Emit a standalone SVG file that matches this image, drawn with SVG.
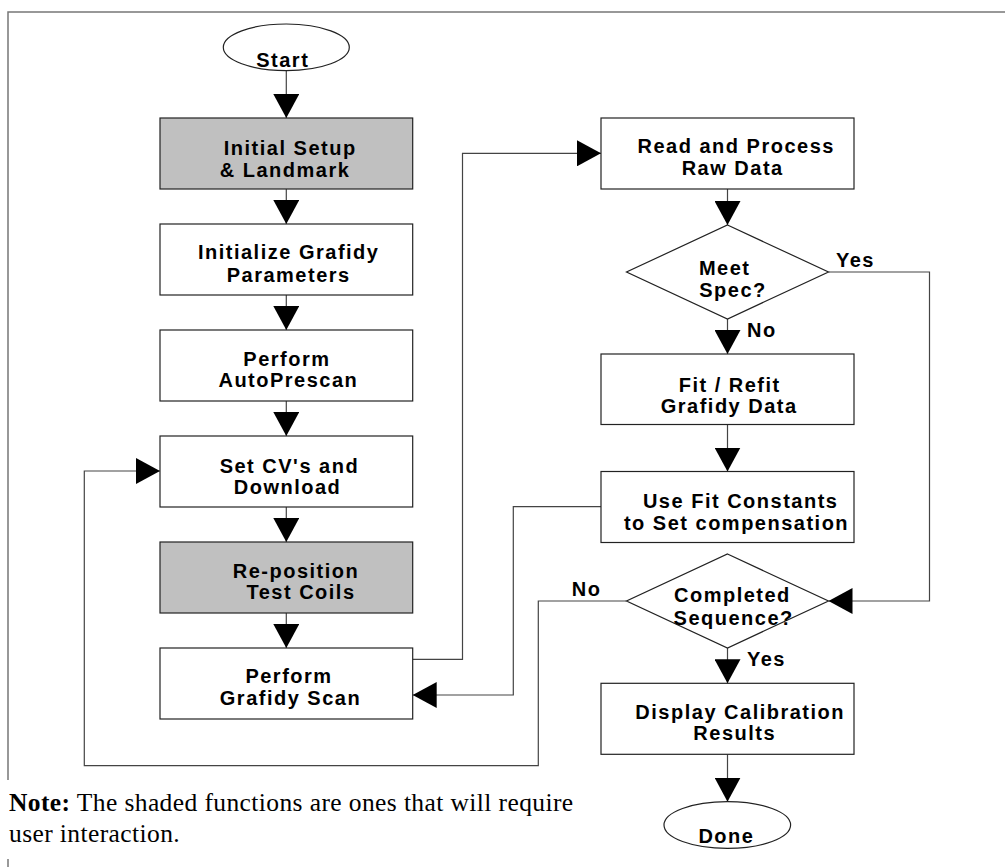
<svg xmlns="http://www.w3.org/2000/svg" width="1005" height="867" viewBox="0 0 1005 867">
<style>
.box{fill:#ffffff;stroke:#222222;stroke-width:1.2}
.shade{fill:#c0c0c0}
.t{font-family:"Liberation Sans",Arial,sans-serif;font-weight:bold;font-size:20px;letter-spacing:1.5px;fill:#000;text-anchor:middle}
.lbl{font-family:"Liberation Sans",Arial,sans-serif;font-weight:bold;font-size:20px;letter-spacing:1.5px;fill:#000}
.c{fill:none;stroke:#444444;stroke-width:1.2}
.note{font-family:"Liberation Serif","Times New Roman",serif;font-size:25.5px;letter-spacing:0.4px;fill:#000}
.frame{fill:none;stroke:#777777;stroke-width:1.5}
</style>
<defs>
<marker id="ah" markerUnits="userSpaceOnUse" markerWidth="26" markerHeight="26" refX="24" refY="13" orient="auto" viewBox="0 0 26 26">
<path d="M0,0 L24,13 L0,26 z" fill="#000"/>
</marker>
</defs>
<rect width="1005" height="867" fill="#ffffff"/>
<g id="frame">
<path class="frame" d="M8,780 L8,12 L1005,12"/>
<path class="frame" d="M8,859 L8,867"/>
</g>
<g id="connectors">
<path class="c" marker-end="url(#ah)" d="M286.3,70.6 L286.3,118"/>
<path class="c" marker-end="url(#ah)" d="M286.3,189 L286.3,224"/>
<path class="c" marker-end="url(#ah)" d="M286.3,295 L286.3,330"/>
<path class="c" marker-end="url(#ah)" d="M286.3,401 L286.3,436"/>
<path class="c" marker-end="url(#ah)" d="M286.3,507 L286.3,542"/>
<path class="c" marker-end="url(#ah)" d="M286.3,613 L286.3,648"/>
<path class="c" marker-end="url(#ah)" d="M412.7,659.3 L462.5,659.3 L462.5,153.3 L601,153.3"/>
<path class="c" marker-end="url(#ah)" d="M727.5,189 L727.5,225"/>
<path class="c" marker-end="url(#ah)" d="M727.5,319 L727.5,354"/>
<path class="c" marker-end="url(#ah)" d="M828.5,272 L929.5,272 L929.5,601 L828.5,601"/>
<path class="c" marker-end="url(#ah)" d="M727.5,424.5 L727.5,471.5"/>
<path class="c" marker-end="url(#ah)" d="M601,506.7 L513.3,506.7 L513.3,695 L412.7,695"/>
<path class="c" marker-end="url(#ah)" d="M626.5,601 L538.3,601 L538.3,765.7 L84.3,765.7 L84.3,471 L160,471"/>
<path class="c" marker-end="url(#ah)" d="M727.5,648 L727.5,683.3"/>
<path class="c" marker-end="url(#ah)" d="M727.5,754.3 L727.5,801.7"/>
<text class="lbl" x="836" y="266.7">Yes</text>
<text class="lbl" x="747" y="337">No</text>
<text class="lbl" x="571.7" y="596">No</text>
<text class="lbl" x="747" y="666">Yes</text>
</g>
<g id="start">
<ellipse class="box" cx="286.3" cy="47.3" rx="63" ry="23.3"/>
<text class="t" x="282.8" y="66.7">Start</text>
</g>
<g id="initial-setup">
<rect class="box shade" x="160" y="118" width="252.7" height="71"/>
<text class="t" x="290.2" y="155">Initial Setup</text>
<text class="t" x="285" y="176.7">&amp; Landmark</text>
</g>
<g id="initialize-grafidy">
<rect class="box" x="160" y="224" width="252.7" height="71"/>
<text class="t" x="288.7" y="259.3">Initialize Grafidy</text>
<text class="t" x="288.7" y="281.7">Parameters</text>
</g>
<g id="autoprescan">
<rect class="box" x="160" y="330" width="252.7" height="71"/>
<text class="t" x="286.9" y="366">Perform</text>
<text class="t" x="288.4" y="386.7">AutoPrescan</text>
</g>
<g id="set-cvs">
<rect class="box" x="160" y="436" width="252.7" height="71"/>
<text class="t" x="289.4" y="472.7">Set CV's and</text>
<text class="t" x="287.5" y="494.3">Download</text>
</g>
<g id="reposition">
<rect class="box shade" x="160" y="542" width="252.7" height="71"/>
<text class="t" x="296" y="577.7">Re-position</text>
<text class="t" x="301" y="599.3">Test Coils</text>
</g>
<g id="grafidy-scan">
<rect class="box" x="160" y="648" width="252.7" height="71"/>
<text class="t" x="289" y="683.3">Perform</text>
<text class="t" x="290.5" y="705">Grafidy Scan</text>
</g>
<g id="read-process">
<rect class="box" x="601" y="118" width="253" height="71"/>
<text class="t" x="736.2" y="153.3">Read and Process</text>
<text class="t" x="732.7" y="175">Raw Data</text>
</g>
<g id="meet-spec">
<polygon class="box" points="727.5,225 828.5,272 727.5,319 626.5,272"/>
<text class="t" x="724.7" y="275">Meet</text>
<text class="t" x="733" y="296.7">Spec?</text>
</g>
<g id="fit-refit">
<rect class="box" x="601" y="354" width="253" height="70.5"/>
<text class="t" x="729.7" y="391.7">Fit / Refit</text>
<text class="t" x="729.2" y="412.7">Grafidy Data</text>
</g>
<g id="use-fit">
<rect class="box" x="601" y="471.5" width="253" height="71"/>
<text class="t" x="740.7" y="508.3">Use Fit Constants</text>
<text class="t" x="736.5" y="530">to Set compensation</text>
</g>
<g id="completed">
<polygon class="box" points="727.5,554 828.5,601 727.5,648 626.5,601"/>
<text class="t" x="732.4" y="601.7">Completed</text>
<text class="t" x="733.7" y="625">Sequence?</text>
</g>
<g id="display">
<rect class="box" x="601" y="683.3" width="253" height="71"/>
<text class="t" x="740.2" y="719">Display Calibration</text>
<text class="t" x="734.7" y="740">Results</text>
</g>
<g id="done">
<ellipse class="box" cx="727.3" cy="825" rx="63.3" ry="23.3"/>
<text class="t" x="726.4" y="842.7">Done</text>
</g>
<g id="note">
<text class="note" x="9" y="811"><tspan font-weight="bold">Note:</tspan> The shaded functions are ones that will require</text>
<text class="note" x="9" y="842">user interaction.</text>
</g>
</svg>
